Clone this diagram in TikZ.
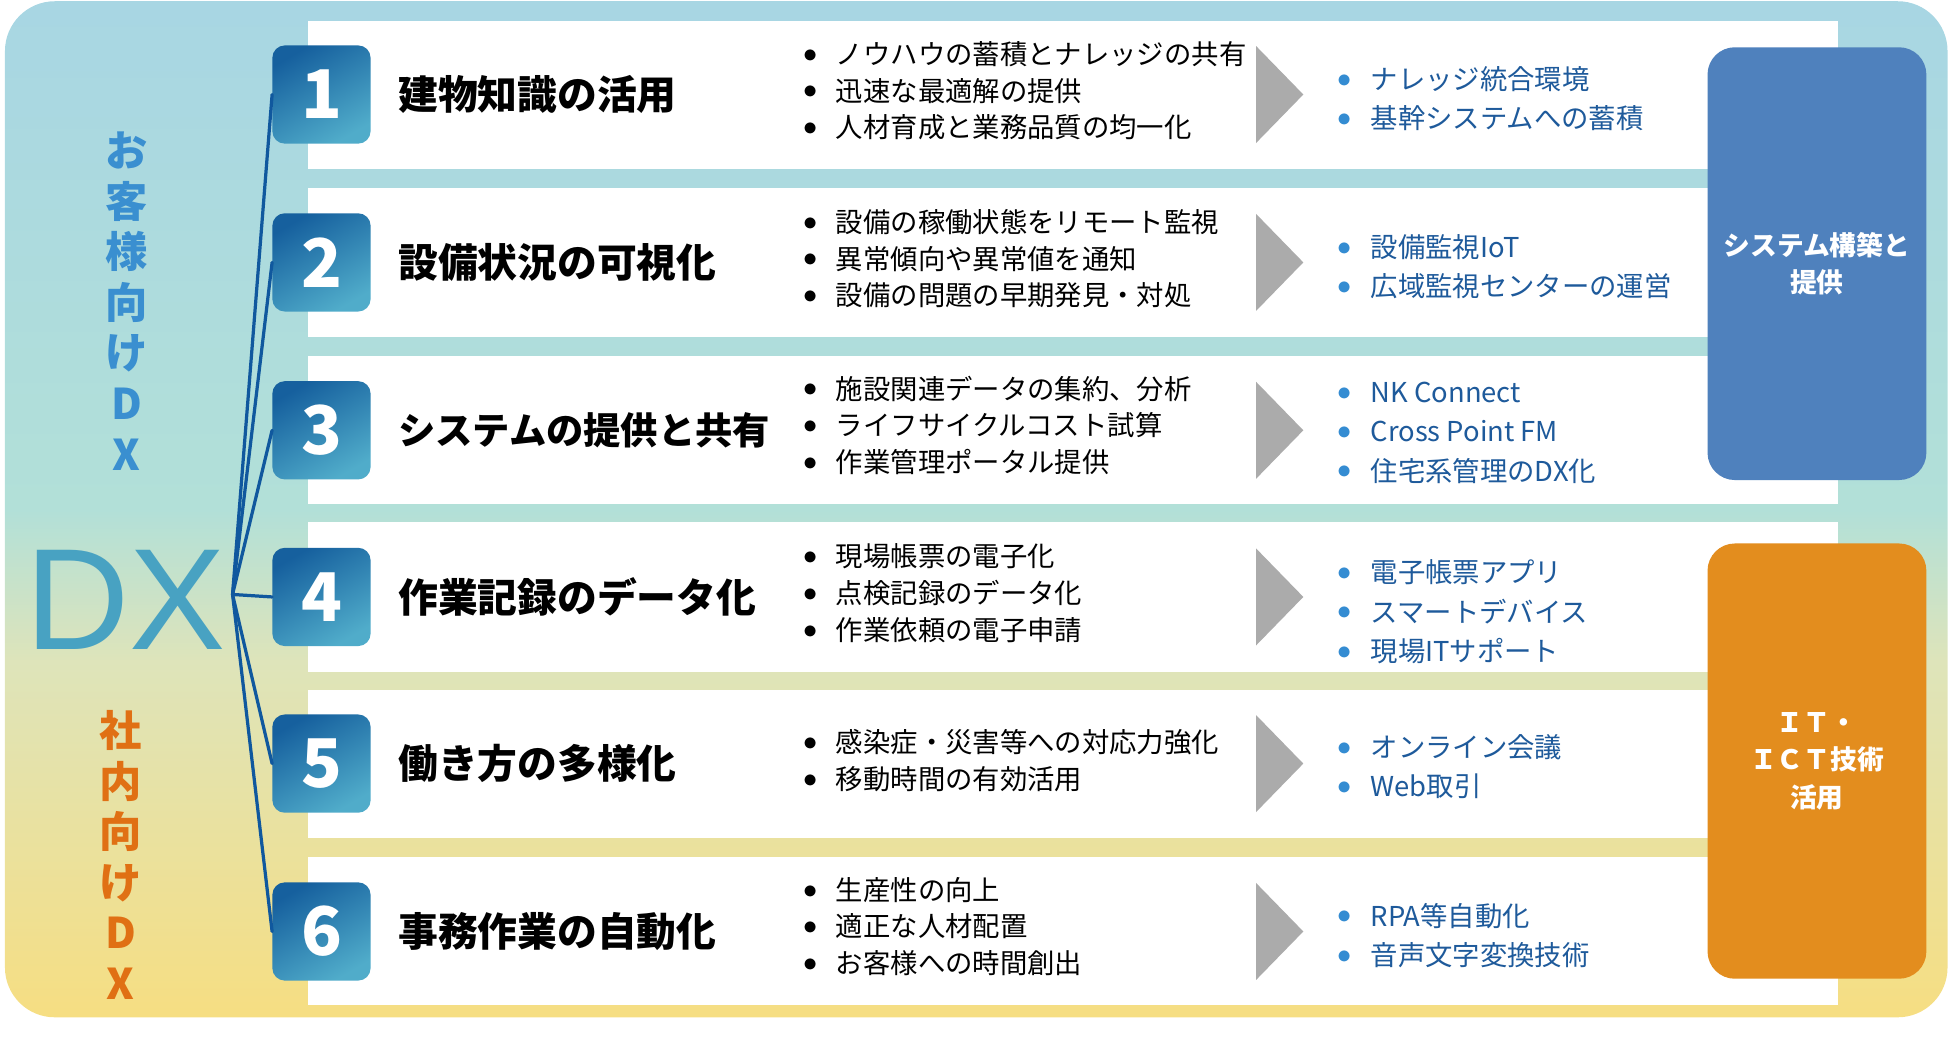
\documentclass[tikz,border=0pt]{standalone}
\usepackage{fontspec}
\setmainfont{Noto Sans CJK JP}
\newfontfamily\dxfont{Liberation Sans}
\usepackage{xcolor}
\usepackage{tikz}
\definecolor{bgtop}{RGB}{168,214,227}
\definecolor{bgmid}{RGB}{178,224,216}
\definecolor{bglow}{RGB}{222,228,186}
\definecolor{bgbot}{RGB}{246,222,130}
\definecolor{nbdark}{RGB}{22,96,158}
\definecolor{nblight}{RGB}{80,172,202}
\definecolor{hubline}{RGB}{16,88,158}
\definecolor{chev}{RGB}{171,171,171}
\definecolor{bluetxt}{RGB}{30,90,155}
\definecolor{bluedot}{RGB}{52,140,210}
\definecolor{sysbox}{RGB}{79,129,189}
\definecolor{itbox}{RGB}{227,141,30}
\definecolor{custtxt}{RGB}{58,143,208}
\definecolor{intxt}{RGB}{224,112,20}
\definecolor{dxcol}{RGB}{72,162,194}
\pgfdeclareverticalshading{bgshade}{100bp}{color(0bp)=(bgbot); color(25bp)=(bgbot);
  color(42.5bp)=(bglow); color(50bp)=(bgmid); color(75bp)=(bgtop); color(100bp)=(bgtop)}
\newcommand{\blk}{\makebox[26pt][l]{\raisebox{0.08em}{\scalebox{1.1}{$\bullet$}}}}
\newcommand{\blu}{\makebox[27pt][l]{\raisebox{0.08em}{\scalebox{1.1}{\color{bluedot}$\bullet$}}}}
\tikzset{
  numbox/.style={rounded corners=10pt, minimum size=79pt, inner sep=0pt, text=white,
    top color=nbdark, bottom color=nblight, shading angle=30, font=\fontsize{54}{54}\selectfont\bfseries},
  titletxt/.style={anchor=west, inner sep=0pt, font=\fontsize{32}{32}\selectfont\bfseries},
  bultxt/.style={anchor=west, inner sep=0pt, align=left, font=\fontsize{22}{29.5}\selectfont},
  restxt/.style={anchor=west, inner sep=0pt, align=left, text=bluetxt, font=\fontsize{22}{31.5}\selectfont},
  sidebox/.style={rounded corners=22pt, minimum width=176pt, inner sep=0pt, text=white, align=center,
    font=\fontsize{21.5}{30}\selectfont\bfseries},
  vertxt/.style={inner sep=0pt, align=center, font=\fontsize{34}{40.7}\selectfont\bfseries}
}
\begin{document}
\begin{tikzpicture}[x=1pt, y=-1pt, line join=round, line cap=round]
\useasboundingbox (0,0) rectangle (1568,835.5);
% background
\shade[shading=bgshade, rounded corners=40pt] (4,1) rectangle (1566,818);

% white rows
\fill[white] (248,17) rectangle (1478,136);
\fill[white] (248,151) rectangle (1478,271);
\fill[white] (248,286) rectangle (1478,405);
\fill[white] (248,420) rectangle (1478,540);
\fill[white] (248,555) rectangle (1478,674);
\fill[white] (248,689) rectangle (1478,808);

% left labels
\node[vertxt, text=custtxt] (cust) at (102,242) {お\\客\\様\\向\\け\\D\\X};
\node[vertxt, text=intxt] (inner) at (97,687.5) {社\\内\\向\\け\\D\\X};
\node[inner sep=0pt, text=dxcol, font=\dxfont\fontsize{116}{116}\selectfont] (dx) at (101,482) {DX};

% numbers
\node[numbox] (n1) at (258.5,76) {1};
\node[numbox] (n2) at (258.5,211) {2};
\node[numbox] (n3) at (258.5,346) {3};
\node[numbox] (n4) at (258.5,480) {4};
\node[numbox] (n5) at (258.5,614) {5};
\node[numbox] (n6) at (258.5,749) {6};

\coordinate (hub) at (187,478);
\draw[hubline, line width=2.6pt] (hub) -- (n1.west);
\draw[hubline, line width=2.6pt] (hub) -- (n2.west);
\draw[hubline, line width=2.6pt] (hub) -- (n3.west);
\draw[hubline, line width=2.6pt] (hub) -- (n4.west);
\draw[hubline, line width=2.6pt] (hub) -- (n5.west);
\draw[hubline, line width=2.6pt] (hub) -- (n6.west);

% titles
\node[titletxt] (t1) at (320,76) {建物知識の活用};
\node[titletxt] (t2) at (320,211) {設備状況の可視化};
\node[titletxt, font=\fontsize{30}{30}\selectfont\bfseries] (t3) at (320,346) {システムの提供と共有};
\node[titletxt] (t4) at (320,480) {作業記録のデータ化};
\node[titletxt] (t5) at (320,614) {働き方の多様化};
\node[titletxt] (t6) at (320,749) {事務作業の自動化};

% points
\node[bultxt] (p1) at (646,73) {\blk ノウハウの蓄積とナレッジの共有\\\blk 迅速な最適解の提供\\\blk 人材育成と業務品質の均一化};
\node[bultxt] (p2) at (646,208) {\blk 設備の稼働状態をリモート監視\\\blk 異常傾向や異常値を通知\\\blk 設備の問題の早期発見・対処};
\node[bultxt] (p3) at (646,342) {\blk 施設関連データの集約、分析\\\blk ライフサイクルコスト試算\\\blk 作業管理ポータル提供};
\node[bultxt] (p4) at (646,477) {\blk 現場帳票の電子化\\\blk 点検記録のデータ化\\\blk 作業依頼の電子申請};
\node[bultxt] (p5) at (646,611.5) {\blk 感染症・災害等への対応力強化\\\blk 移動時間の有効活用};
\node[bultxt] (p6) at (646,745) {\blk 生産性の向上\\\blk 適正な人材配置\\\blk お客様への時間創出};

% chevrons
\fill[chev] (1010,37) -- (1048,76) -- (1010,115) -- cycle;
\fill[chev] (1010,172) -- (1048,211) -- (1010,250) -- cycle;
\fill[chev] (1010,307) -- (1048,346) -- (1010,385) -- cycle;
\fill[chev] (1010,441) -- (1048,480) -- (1010,519) -- cycle;
\fill[chev] (1010,575) -- (1048,614) -- (1010,653) -- cycle;
\fill[chev] (1010,710) -- (1048,749) -- (1010,788) -- cycle;

% results
\node[restxt] (r1) at (1075,79.5) {\blu ナレッジ統合環境\\\blu 基幹システムへの蓄積};
\node[restxt] (r2) at (1075,214.5) {\blu 設備監視IoT\\\blu 広域監視センターの運営};
\node[restxt] (r3) at (1075,348) {\blu NK Connect\\\blu Cross Point FM\\\blu 住宅系管理のDX化};
\node[restxt] (r4) at (1075,492) {\blu 電子帳票アプリ\\\blu スマートデバイス\\\blu 現場ITサポート};
\node[restxt] (r5) at (1075,616.5) {\blu オンライン会議\\\blu Web取引};
\node[restxt] (r6) at (1075,752) {\blu RPA等自動化\\\blu 音声文字変換技術};

% side boxes
\node[sidebox, fill=sysbox, minimum height=348pt] (sys) at (1461,212) {システム構築と\\提供};
\node[sidebox, fill=itbox, minimum height=350pt] (ict) at (1461,612) {ＩＴ・\\ＩＣＴ技術\\活用};
\end{tikzpicture}
\end{document}
